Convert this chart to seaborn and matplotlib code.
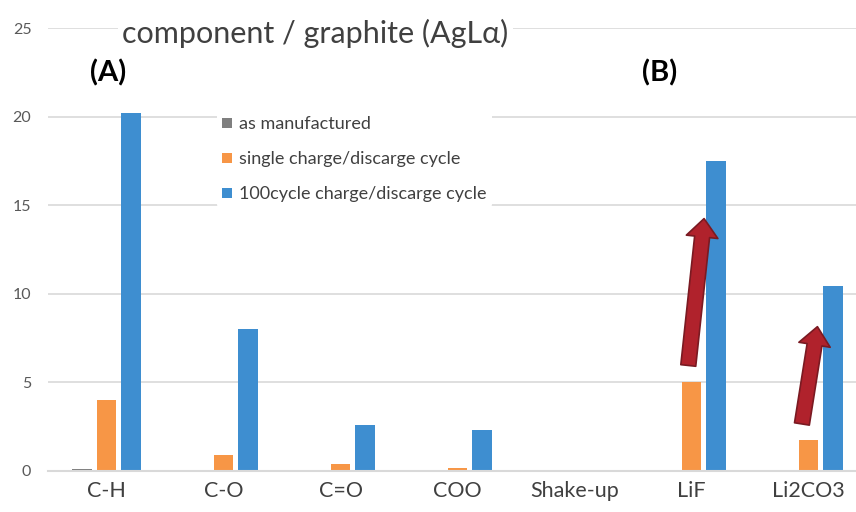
import numpy as np
import pandas as pd
import matplotlib
matplotlib.use('Agg')
import matplotlib.pyplot as plt
from matplotlib.patches import FancyArrowPatch
import seaborn as sns

# data
components = ['C-H', 'C-O', 'C=O', 'COO', 'Shake-up', 'LiF', 'Li2CO3']
as_manufactured = [0.1, 0.0, 0.0, 0.0, 0.0, 0.0, 0.0]
single_cycle = [4.0, 0.92, 0.38, 0.18, 0.0, 5.0, 1.77]
cycle_100 = [20.2, 8.0, 2.6, 2.3, 0.0, 17.5, 10.45]
series_names = ['as manufactured', 'single charge/discarge cycle',
                '100cycle charge/discarge cycle']
colors = ['#7F7F7F', '#F79646', '#3E8ED0']

# arrow annotations (tail x, tail y, head x, head y) in data units
arrows = [(4.97, 5.8, 5.11, 14.4), (5.94, 2.5, 6.08, 8.3)]

sns.set_style("white")
plt.rcParams['font.family'] = ['Lato', 'DejaVu Sans']

df = pd.DataFrame({
    'Component': components * 3,
    'Value': as_manufactured + single_cycle + cycle_100,
    'Condition': [s for s in series_names for _ in components],
})

fig = plt.figure(figsize=(8.56, 5.12), dpi=100)
ax = fig.add_axes([48 / 856, 41 / 512, 819 / 856, 443 / 512])

sns.barplot(data=df, x='Component', y='Value', hue='Condition',
            hue_order=series_names, palette=colors, saturation=1,
            width=0.64, gap=0.2, ax=ax, legend=True,
            edgecolor='none', linewidth=0)

ax.set_xlim(-0.5, 6.5)
ax.set_ylim(0, 25)
ax.set_yticks([0, 5, 10, 15, 20, 25])
ax.yaxis.grid(True, color='#D9D9D9', linewidth=1.2)
ax.set_axisbelow(True)
for s in ['top', 'right', 'left']:
    ax.spines[s].set_visible(False)
ax.spines['bottom'].set_color('#D9D9D9')
ax.spines['bottom'].set_linewidth(1.5)
ax.tick_params(axis='both', length=0)
ax.tick_params(axis='y', labelsize=11.5, labelcolor='#595959', pad=12)
ax.tick_params(axis='x', labelsize=15.5, labelcolor='#404040', pad=7)
ax.set_xlabel('')
ax.set_ylabel('')

# legend with white box covering the gridline
handles, labels = ax.get_legend_handles_labels()
leg = ax.legend(handles, labels, loc='upper left',
                bbox_to_anchor=(208 / 856, 1 - 102 / 512),
                bbox_transform=fig.transFigure, frameon=True,
                facecolor='white', edgecolor='none', framealpha=1,
                fontsize=13, labelcolor='#404040', handlelength=0.55,
                handleheight=0.55, handletextpad=0.35, labelspacing=1.05,
                borderpad=0.3)

fig.text(122 / 856, 1 - 33 / 512, 'component / graphite (AgLα)',
         fontsize=22, color='#404040', va='center', ha='left',
         bbox=dict(facecolor='white', edgecolor='none', pad=3))
fig.text(108 / 856, 1 - 73 / 512, '(A)', fontsize=21, fontweight='bold',
         color='black', va='center', ha='center')
fig.text(660 / 856, 1 - 73 / 512, '(B)', fontsize=21, fontweight='bold',
         color='black', va='center', ha='center')

for x0, y0, x1, y1 in arrows:
    arr = FancyArrowPatch((x0, y0), (x1, y1),
                          arrowstyle='simple,head_length=1.1,head_width=1.9,tail_width=0.9',
                          mutation_scale=12, facecolor='#B0222C',
                          edgecolor='#7A1A22', linewidth=1.2, zorder=5)
    ax.add_patch(arr)

fig.savefig('out.png', dpi=100)
